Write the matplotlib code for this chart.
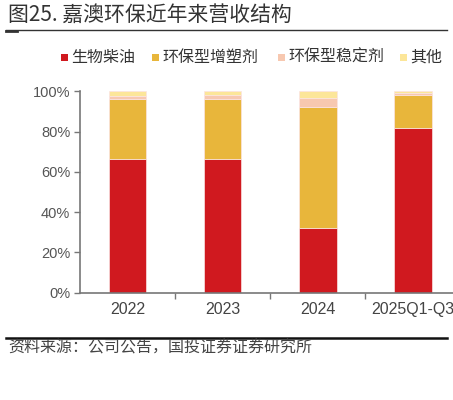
import matplotlib
matplotlib.use("Agg")
import matplotlib.pyplot as plt
from matplotlib.patches import Rectangle
from matplotlib.lines import Line2D

plt.rcParams['font.family'] = ['Noto Sans CJK SC', 'DejaVu Sans']

categories = ["2022", "2023", "2024", "2025Q1-Q3"]
series_names = ["生物柴油", "环保型增塑剂", "环保型稳定剂", "其他"]
biodiesel = [66.4, 66.4, 32.3, 81.9]
plasticizer = [29.8, 29.8, 59.9, 16.3]
stabilizer = [1.6, 2.0, 4.6, 1.0]
other = [2.2, 1.8, 3.2, 0.8]
yticks = [0, 20, 40, 60, 80, 100]
ytick_labels = ["0%", "20%", "40%", "60%", "80%", "100%"]
title = "图25. 嘉澳环保近年来营收结构"
source = "资料来源：公司公告，国投证券证券研究所"

colors = ["#D0191F", "#E8B63B", "#F7C8B0", "#FCE699"]

W, H = 453, 400
fig = plt.figure(figsize=(W / 100, H / 100), dpi=100)

def fx(px):
    return px / W

def fy(py):
    return 1 - py / H

# axes placement in pixels
ax_left, ax_right = 80, 460.5
ax_top, ax_bottom = 91.3, 292.7
ax = fig.add_axes([fx(ax_left), fy(ax_bottom), (ax_right - ax_left) / W, (ax_bottom - ax_top) / H])

x = list(range(len(categories)))
bottom = [0] * len(categories)
for vals, c in zip([biodiesel, plasticizer, stabilizer, other], colors):
    ax.bar(x, vals, width=0.395, bottom=bottom, color=c, edgecolor="#fbe3e3", linewidth=0.5)
    bottom = [b + v for b, v in zip(bottom, vals)]

ax.set_xlim(-0.5, 3.5)
ax.set_ylim(0, 100)
ax.set_yticks(yticks)
ax.set_yticklabels(ytick_labels, fontfamily=['Liberation Sans'], fontsize=10.5, color="#555555")
ax.set_xticks([0.5, 1.5, 2.5])
ax.set_xticklabels([])
ax.tick_params(axis='x', length=4, width=1, color="#777777", direction='out')
ax.tick_params(axis='y', length=4, width=1, color="#777777", direction='out', pad=3)
for i, lab in enumerate(categories):
    ax.text(i, -4.5, lab, ha='center', va='top', fontsize=11.5, color="#444444",
            fontfamily=['Liberation Sans'], transform=ax.transData, clip_on=False)
for s in ['top', 'right']:
    ax.spines[s].set_visible(False)
for s in ['left', 'bottom']:
    ax.spines[s].set_color("#777777")
    ax.spines[s].set_linewidth(1.2)

# title and rules
fig.text(fx(8), fy(15), title, ha='left', va='center', fontsize=15, color="#333333", fontweight='medium')
fig.add_artist(Line2D([fx(6), fx(447)], [fy(29.5)] * 2, color="#333333", lw=1.0))
fig.add_artist(Line2D([fx(6), fx(17)], [fy(30.5)] * 2, color="#333333", lw=2.0))
fig.add_artist(Line2D([fx(6), fx(447)], [fy(337.5)] * 2, color="#111111", lw=1.8))
fig.text(fx(8), fy(348), source, ha='left', va='center', fontsize=11.5, color="#444444", style='italic')

# legend (manual placement)
legend_sq_x = [61, 152, 278, 400]
legend_y = 57
for sx, name, c in zip(legend_sq_x, series_names, colors):
    fig.add_artist(Rectangle((fx(sx), fy(legend_y + 3.5)), 7 / W, 7 / H, facecolor=c,
                             edgecolor='none', transform=fig.transFigure))
    fig.text(fx(sx + 10.5), fy(legend_y), name, ha='left', va='center', fontsize=11.5, color="#333333")

fig.savefig("out.png", dpi=100)
